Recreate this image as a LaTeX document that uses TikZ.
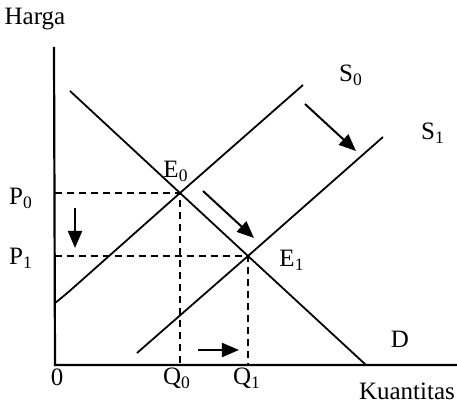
\documentclass[tikz,border=0pt]{standalone}
\usepackage{fontspec}
\setmainfont{Liberation Serif}
\usetikzlibrary{arrows.meta, positioning, calc}
\tikzset{
	axis/.style={line width=1.1pt},
	curve/.style={line width=0.9pt},
	guide/.style={line width=0.8pt, dash pattern=on 3.5pt off 2.5pt},
	arrow/.style={-{Triangle[length=8.5pt, width=7pt]}, line width=1pt},
	lbl/.style={font=\fontsize{12.5}{14}\selectfont, inner sep=0pt, anchor=base},
}
\begin{document}
\begin{tikzpicture}[x=0.5pt, y=-0.5pt]
	\useasboundingbox (0,0) rectangle (457,410);
	% axes
	\coordinate (ytop) at (54,47);
	\coordinate (O) at (55,365);
	\coordinate (xend) at (457,365);
	\draw[axis] (ytop) -- (O) -- (xend);
	% equilibrium points
	\coordinate (E0) at (180,193);
	\coordinate (E1) at (248,256);
	% demand and supply curves
	\coordinate (Dtop) at (70,91);
	\coordinate (Dend) at (366,365);
	\draw[curve] (Dtop) -- (E0) -- (E1) -- (Dend);
	\coordinate (S0low) at (55,303);
	\coordinate (S0top) at (303,85);
	\draw[curve, rounded corners=5pt] (S0low) -- (64,296) -- (E0) -- (S0top);
	\coordinate (S1low) at (137,353);
	\coordinate (S1top) at (383,137);
	\draw[curve] (S1low) -- (E1) -- (S1top);
	% guide lines
	\coordinate (P0) at (55,193);
	\coordinate (P1) at (55,256);
	\coordinate (Q0) at (180,365);
	\coordinate (Q1) at (248,365);
	\draw[guide] (P0) -- (E0) -- (Q0);
	\draw[guide] (P1) -- (E1) -- (Q1);
	% shift arrows
	\coordinate (pa1) at (75,208);
	\coordinate (pa2) at (75,248);
	\coordinate (qa1) at (198,350);
	\coordinate (qa2) at (239,350);
	\coordinate (ea1) at (203,191);
	\coordinate (ea2) at (254,238);
	\coordinate (sa1) at (305,104);
	\coordinate (sa2) at (356,151);
	\draw[arrow] (pa1) -- (pa2);
	\draw[arrow] (qa1) -- (qa2);
	\draw[arrow] (ea1) -- (ea2);
	\draw[arrow] (sa1) -- (sa2);
	% labels
	\node[lbl] (harga) at (35,25) {Harga};
	\node[lbl] (kuan) at (407,400) {Kuantitas};
	\node[lbl] (p0) at (21,205) {P\textsubscript{0}};
	\node[lbl] (p1) at (21,265) {P\textsubscript{1}};
	\node[lbl] (e0) at (176,178) {E\textsubscript{0}};
	\node[lbl] (e1) at (292,267) {E\textsubscript{1}};
	\node[lbl] (s0) at (351,82) {S\textsubscript{0}};
	\node[lbl] (s1) at (433,140) {S\textsubscript{1}};
	\node[lbl] (dlab) at (400,348) {D};
	\node[lbl] (zero) at (57,386) {0};
	\node[lbl] (q0) at (177,385) {Q\textsubscript{0}};
	\node[lbl] (q1) at (247,385) {Q\textsubscript{1}};
\end{tikzpicture}
\end{document}
